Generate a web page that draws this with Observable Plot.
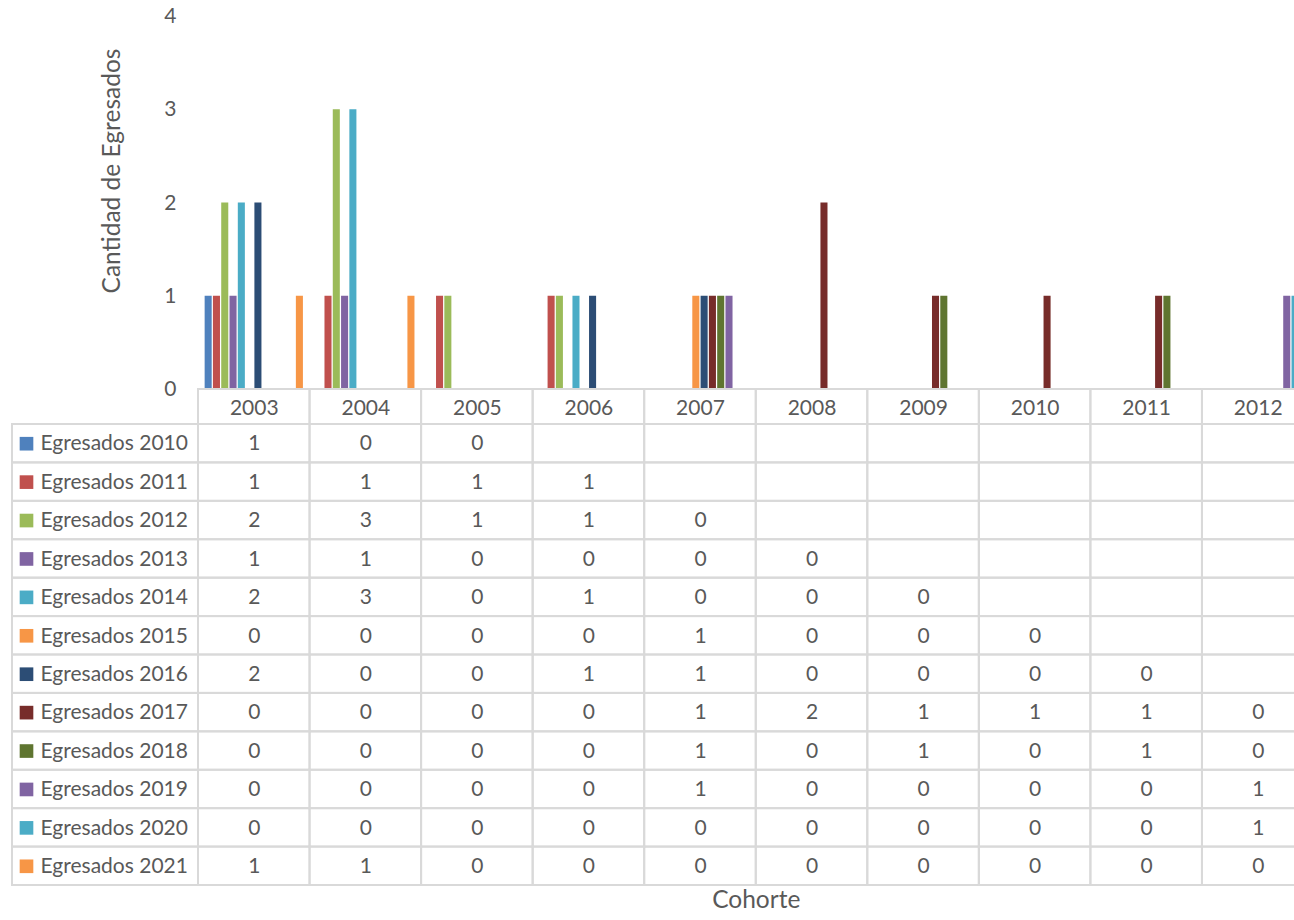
<!DOCTYPE html>
<html>
<head>
<meta charset="utf-8">
<script src="https://cdn.jsdelivr.net/npm/d3@7"></script>
<script src="https://cdn.jsdelivr.net/npm/@observablehq/plot@0.6"></script>
<style>
html, body { margin: 0; padding: 0; background: #fff; overflow: hidden; }
#wrap { width: 1314px; }
#hdr { padding-left: 198px; height: 35px; }
#table { display: flex; }
svg { overflow: visible; display: block; }
</style>
</head>
<body>
<div id="wrap"><div id="top"></div><div id="hdr"></div><div id="table"></div></div>
<script>
// ---- data ----
const cohorts = ["2003", "2004", "2005", "2006", "2007", "2008", "2009", "2010", "2011", "2012"];
const seriesNames = ["Egresados 2010", "Egresados 2011", "Egresados 2012", "Egresados 2013",
  "Egresados 2014", "Egresados 2015", "Egresados 2016", "Egresados 2017",
  "Egresados 2018", "Egresados 2019", "Egresados 2020", "Egresados 2021"];
const seriesColors = ["#4F81BD", "#C0504D", "#9BBB59", "#8064A2", "#4BACC6", "#F79646",
  "#2C4D75", "#772C2A", "#5F7530", "#8064A2", "#4BACC6", "#F79646"];
const egresados2010 = [1, 0, 0, null, null, null, null, null, null, null];
const egresados2011 = [1, 1, 1, 1, null, null, null, null, null, null];
const egresados2012 = [2, 3, 1, 1, 0, null, null, null, null, null];
const egresados2013 = [1, 1, 0, 0, 0, 0, null, null, null, null];
const egresados2014 = [2, 3, 0, 1, 0, 0, 0, null, null, null];
const egresados2015 = [0, 0, 0, 0, 1, 0, 0, 0, null, null];
const egresados2016 = [2, 0, 0, 1, 1, 0, 0, 0, 0, null];
const egresados2017 = [0, 0, 0, 0, 1, 2, 1, 1, 1, 0];
const egresados2018 = [0, 0, 0, 0, 1, 0, 1, 0, 1, 0];
const egresados2019 = [0, 0, 0, 0, 1, 0, 0, 0, 0, 1];
const egresados2020 = [0, 0, 0, 0, 0, 0, 0, 0, 0, 1];
const egresados2021 = [1, 1, 0, 0, 0, 0, 0, 0, 0, 0];
const yTicks = [0, 1, 2, 3, 4];
const yTitle = "Cantidad de Egresados";
const xTitle = "Cohorte";

// ---- build records ----
const seriesValues = [egresados2010, egresados2011, egresados2012, egresados2013, egresados2014,
  egresados2015, egresados2016, egresados2017, egresados2018, egresados2019, egresados2020, egresados2021];
const records = [];
seriesNames.forEach((s, i) => seriesValues[i].forEach((v, j) => records.push({series: s, cohort: cohorts[j], value: v})));
const present = records.filter(d => d.value != null);

const textColor = "#595959";
const gridColor = "#d9d9d9";
const FONT = "Lato, 'Open Sans', sans-serif";
const FS = 21;
const TS = 24.5;
const LEFT = 198;
const PLOTW = 1115.5;
const baseStyle = `background:none;overflow:visible;font-family:${FONT};font-size:${FS}px;color:${textColor};`;

// ---- chart (bars) ----
const chart = Plot.plot({
  width: LEFT + PLOTW, height: 389,
  marginTop: 16, marginBottom: 0, marginLeft: LEFT, marginRight: 0,
  style: baseStyle,
  fx: {domain: cohorts, padding: 0, round: false, axis: null},
  x: {domain: seriesNames, paddingInner: 0.15, paddingOuter: 0.8, round: false, axis: null},
  y: {domain: [0, 4], axis: null},
  color: {domain: seriesNames, range: seriesColors},
  marks: [
    Plot.axisY({ticks: yTicks, tickFormat: d3.format("d"), tickSize: 0, tickPadding: 22, label: null, fontSize: FS}),
    Plot.barY(present, {fx: "cohort", x: "series", y: "value", fill: "series"}),
    Plot.text([{label: yTitle, c: cohorts[0]}], {fx: "c", text: "label", frameAnchor: "left", textAnchor: "middle",
      rotate: -90, dx: -86, dy: -32, fontSize: TS, fill: textColor})
  ]
});
document.getElementById("top").appendChild(chart);

// ---- header row of the data table ----
const header = Plot.plot({
  width: PLOTW, height: 35,
  margin: 0,
  style: baseStyle,
  x: {domain: cohorts, padding: 0, round: false, axis: null},
  marks: [
    Plot.cell(cohorts, {x: d => d, fill: "none", stroke: gridColor, strokeWidth: 2, inset: 0}),
    Plot.text(cohorts, {x: d => d, frameAnchor: "middle", dy: 1, fill: textColor, fontSize: FS})
  ]
});
document.getElementById("hdr").appendChild(header);

// ---- data table body ----
const legendCol = Plot.plot({
  width: LEFT, height: 495,
  marginTop: 0, marginBottom: 34, marginLeft: 12, marginRight: 0,
  style: baseStyle,
  y: {domain: seriesNames, padding: 0, round: false, axis: null},
  color: {domain: seriesNames, range: seriesColors},
  marks: [
    Plot.cell(seriesNames, {y: d => d, fill: "none", stroke: gridColor, strokeWidth: 2, inset: 0}),
    Plot.dot(seriesNames, {y: d => d, frameAnchor: "left", dx: 14, symbol: "square", r: 7.7, fill: d => d, stroke: "none"}),
    Plot.text(seriesNames, {y: d => d, frameAnchor: "left", dx: 28, textAnchor: "start", fill: textColor, fontSize: FS})
  ]
});

const cells = [];
seriesNames.forEach(r => cohorts.forEach(c => cells.push({row: r, cohort: c})));
const table = Plot.plot({
  width: PLOTW, height: 495,
  marginTop: 0, marginBottom: 34, marginLeft: 0, marginRight: 0,
  style: baseStyle,
  x: {domain: cohorts, padding: 0, round: false, axis: null},
  y: {domain: seriesNames, padding: 0, round: false, axis: null},
  marks: [
    Plot.cell(cells, {x: "cohort", y: "row", fill: "none", stroke: gridColor, strokeWidth: 2, inset: 0}),
    Plot.text(present, {x: "cohort", y: "series", text: d => String(d.value), fill: textColor, fontSize: FS}),
    Plot.text([xTitle], {frameAnchor: "bottom", dy: 22, fontSize: TS, fill: textColor})
  ]
});
document.getElementById("table").appendChild(legendCol);
document.getElementById("table").appendChild(table);
</script>
</body>
</html>
